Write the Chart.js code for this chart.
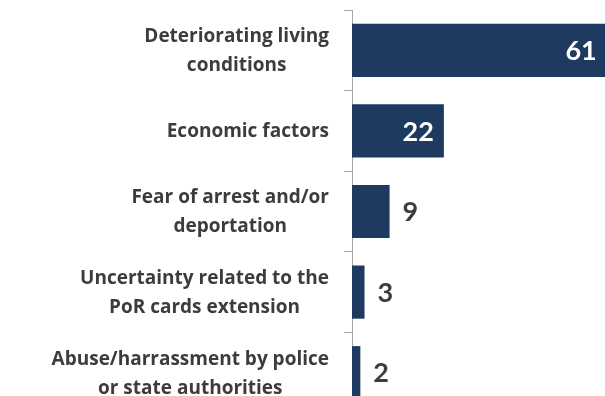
<!DOCTYPE html>
<html>
<head>
<meta charset="utf-8">
<script src="https://cdn.jsdelivr.net/npm/chart.js@4/dist/chart.umd.min.js"></script>
<style>
html,body{margin:0;padding:0;background:#fff;}
#wrap{width:605px;height:396px;overflow:hidden;position:relative;}
canvas{display:block;}
</style>
</head>
<body>
<div id="wrap"><canvas id="c" width="640" height="420"></canvas></div>
<script>
const categories = [
  ["Deteriorating living", "conditions"],
  ["Economic factors"],
  ["Fear of arrest and/or", "deportation"],
  ["Uncertainty related to the", "PoR cards extension"],
  ["Abuse/harrassment by police", "or state authorities"]
];
const values = [61, 22, 9, 3, 2];

const BAR_COLOR = '#1f3a60';
const TEXT_COLOR = '#3c3c3c';
const CAT_FONT = 'bold 19px "Open Sans", Lato, sans-serif';
const VAL_FONT = 'bold 27px Lato, "Open Sans", sans-serif';

const labelPlugin = {
  id: 'catLabels',
  afterDraw(chart) {
    const ctx = chart.ctx;
    const yScale = chart.scales.y;
    const rightEdge = chart.chartArea.left - 23;
    ctx.save();
    ctx.font = CAT_FONT;
    ctx.fillStyle = TEXT_COLOR;
    ctx.textAlign = 'center';
    ctx.textBaseline = 'middle';
    categories.forEach((lines, i) => {
      const yc = yScale.getPixelForValue(i);
      const widest = Math.max(...lines.map(l => ctx.measureText(l).width));
      const cx = rightEdge - widest / 2;
      const n = lines.length;
      lines.forEach((line, j) => {
        ctx.fillText(line, cx, yc + 1 + (j - (n - 1) / 2) * 29);
      });
    });
    ctx.restore();
  },
  afterDatasetsDraw(chart) {
    const ctx = chart.ctx;
    const meta = chart.getDatasetMeta(0);
    ctx.save();
    ctx.font = VAL_FONT;
    ctx.textBaseline = 'middle';
    meta.data.forEach((bar, i) => {
      const v = values[i];
      if (v >= 15) {
        ctx.fillStyle = '#ffffff';
        ctx.textAlign = 'right';
        ctx.fillText(String(v), bar.x - 10, bar.y + 1);
      } else {
        ctx.fillStyle = TEXT_COLOR;
        ctx.textAlign = 'left';
        ctx.fillText(String(v), bar.x + 13, bar.y + 1);
      }
    });
    ctx.restore();
  }
};

new Chart(document.getElementById('c'), {
  type: 'bar',
  data: {
    labels: categories,
    datasets: [{
      data: values,
      backgroundColor: BAR_COLOR,
      borderWidth: 0,
      barPercentage: 0.66,
      categoryPercentage: 1.0
    }]
  },
  options: {
    indexAxis: 'y',
    responsive: false,
    animation: false,
    layout: { padding: { top: 10, bottom: 7, left: 0, right: 4 } },
    plugins: { legend: { display: false }, tooltip: { enabled: false } },
    scales: {
      x: { display: false, min: 0, max: 68 },
      y: {
        grid: { drawOnChartArea: false, drawTicks: true, tickLength: 8, color: '#a6a6a6', offset: true },
        border: { display: true, color: '#a6a6a6', width: 1 },
        ticks: { display: false },
        afterFit(scale) { scale.width = 352; }
      }
    }
  },
  plugins: [labelPlugin]
});
</script>
</body>
</html>
